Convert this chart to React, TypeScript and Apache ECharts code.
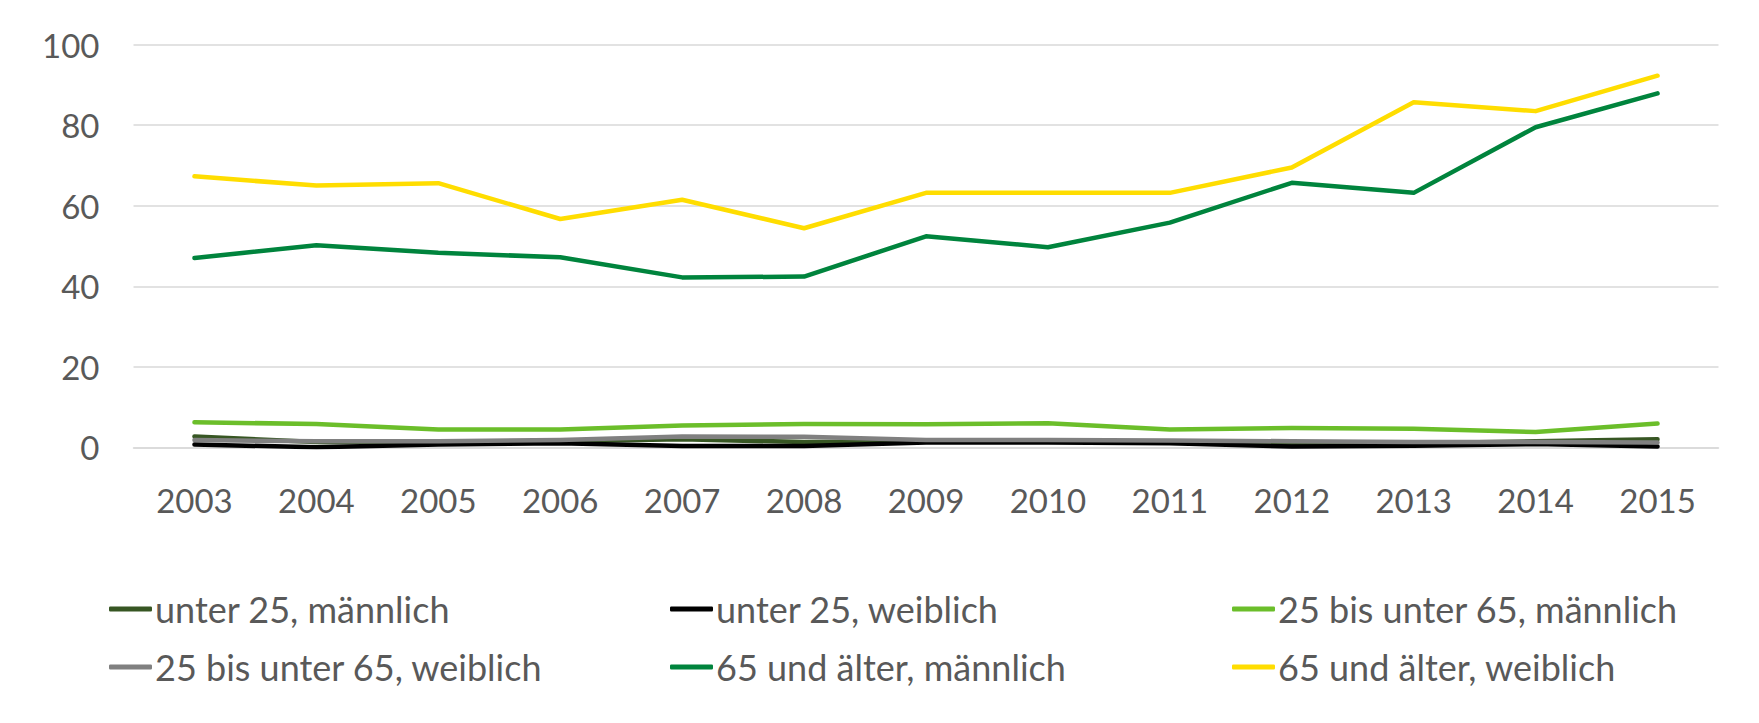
import React, { useEffect, useRef } from "react";
import * as echarts from "echarts";

const years = ["2003", "2004", "2005", "2006", "2007", "2008", "2009", "2010", "2011", "2012", "2013", "2014", "2015"];
const seriesNames = [
  "unter 25, männlich",
  "unter 25, weiblich",
  "25 bis unter 65, männlich",
  "25 bis unter 65, weiblich",
  "65 und älter, männlich",
  "65 und älter, weiblich",
];
const unter25Maennlich = [2.7, 1.3, 1.2, 1.5, 2.0, 1.3, 1.5, 1.5, 1.2, 1.0, 1.0, 1.5, 2.0];
const unter25Weiblich = [0.7, 0.0, 0.7, 1.0, 0.3, 0.3, 1.2, 1.2, 1.0, 0.2, 0.4, 0.8, 0.2];
const mitteMaennlich = [6.2, 5.8, 4.4, 4.4, 5.4, 5.8, 5.7, 6.0, 4.4, 4.8, 4.6, 3.8, 5.9];
const mitteWeiblich = [1.8, 1.5, 1.5, 1.8, 2.7, 2.6, 1.8, 1.8, 1.7, 1.5, 1.3, 1.3, 1.2];
const aeltereMaennlich = [47.0, 50.2, 48.3, 47.2, 42.2, 42.4, 52.4, 49.7, 55.8, 65.7, 63.2, 79.5, 87.9];
const aeltereWeiblich = [67.3, 65.0, 65.6, 56.7, 61.5, 54.4, 63.2, 63.2, 63.2, 69.5, 85.7, 83.5, 92.3];
const yTicks = { min: 0, max: 100, interval: 20 };

const allData = [unter25Maennlich, unter25Weiblich, mitteMaennlich, mitteWeiblich, aeltereMaennlich, aeltereWeiblich];
const colors = ["#375623", "#000000", "#6BBE2A", "#808080", "#00843D", "#FFDD00"];
const legendPos = [
  { left: 109, top: 591 },
  { left: 670, top: 591 },
  { left: 1232, top: 591 },
  { left: 109, top: 649 },
  { left: 670, top: 649 },
  { left: 1232, top: 649 },
];

const FONT = "Lato, 'Open Sans', sans-serif";
const TEXT = "#595959";

export default function App() {
  const ref = useRef<HTMLDivElement>(null);
  useEffect(() => {
    document.body.style.margin = "0";
    const chart = echarts.init(ref.current!, null, { renderer: "svg" });
    chart.setOption({
      animation: false,
      backgroundColor: "#ffffff",
      textStyle: { fontFamily: FONT },
      grid: { left: 133.5, right: 40.5, top: 44.7, bottom: 275.7, containLabel: false },
      xAxis: {
        type: "category",
        data: years,
        boundaryGap: true,
        axisLine: { show: true, lineStyle: { color: "#D9D9D9", width: 1.5 } },
        axisTick: { show: false },
        axisLabel: { color: TEXT, fontSize: 33, fontFamily: FONT, margin: 36 },
      },
      yAxis: {
        type: "value",
        min: yTicks.min,
        max: yTicks.max,
        interval: yTicks.interval,
        axisLine: { show: false },
        axisTick: { show: false },
        splitLine: { lineStyle: { color: "#D9D9D9", width: 1.5 } },
        axisLabel: { color: TEXT, fontSize: 33, fontFamily: FONT, margin: 34 },
      },
      legend: seriesNames.map((name, i) => ({
        data: [{ name, icon: "roundRect" }],
        left: legendPos[i].left,
        top: legendPos[i].top,
        padding: 0,
        itemWidth: 43,
        itemHeight: 5,
        itemGap: 0,
        selectedMode: false,
        textStyle: { color: TEXT, fontSize: 36, fontFamily: FONT, padding: [0, 0, 0, -2] },
      })),
      series: seriesNames.map((name, i) => ({
        name,
        type: "line",
        data: allData[i],
        symbol: "none",
        color: colors[i],
        lineStyle: { color: colors[i], width: 4.5, cap: "round", join: "round" },
      })),
    });
    return () => chart.dispose();
  }, []);
  return <div ref={ref} style={{ position: "fixed", left: 0, top: 0, width: 1759, height: 723 }} />;
}
